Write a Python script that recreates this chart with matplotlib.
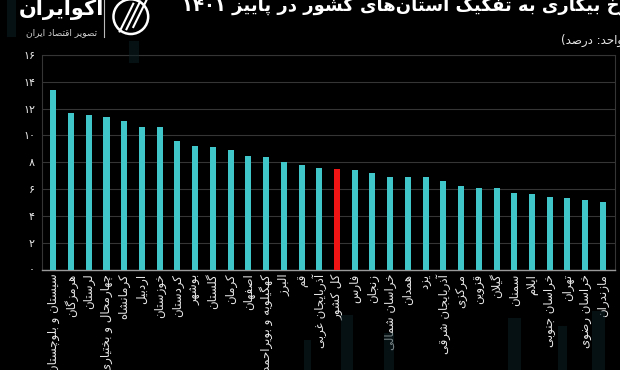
import matplotlib
matplotlib.use("Agg")
import matplotlib.pyplot as plt
from matplotlib.patches import Rectangle, Ellipse

# --- data (unemployment rate by province, autumn 1401, percent) ---
provinces = [
    "سیستان و بلوچستان", "هرمزگان", "لرستان", "چهارمحال و بختیاری", "کرمانشاه",
    "اردبیل", "خوزستان", "کردستان", "بوشهر", "گلستان", "کرمان", "اصفهان",
    "کهگیلویه و بویراحمد", "البرز", "قم", "آذربایجان غربی", "کل کشور", "فارس",
    "زنجان", "خراسان شمالی", "همدان", "یزد", "آذربایجان شرقی", "مرکزی", "قزوین",
    "گیلان", "سمنان", "ایلام", "خراسان جنوبی", "تهران", "خراسان رضوی", "مازندران",
]
rates = [13.4, 11.7, 11.5, 11.4, 11.1, 10.6, 10.6, 9.6, 9.2, 9.1, 8.9, 8.5,
         8.4, 8.0, 7.8, 7.6, 7.5, 7.4, 7.2, 6.9, 6.9, 6.9, 6.6, 6.2, 6.1,
         6.1, 5.7, 5.6, 5.4, 5.3, 5.2, 5.0]
highlight = "کل کشور"
y_ticks = [0, 2, 4, 6, 8, 10, 12, 14, 16]

title = "نرخ بیکاری به تفکیک استان‌های کشور در پاییز ۱۴۰۱"
subtitle = "(واحد: درصد)"
brand = "اکوایران"
brand_sub = "تصویر اقتصاد ایران"

# --- minimal Persian shaping (matplotlib has no RTL / joining support) ---
FORMS = {  # isolated, final, initial, medial
    "ا": ("\uFE8D", "\uFE8E"), "آ": ("\uFE81", "\uFE82"),
    "ب": ("\uFE8F", "\uFE90", "\uFE91", "\uFE92"),
    "پ": ("\uFB56", "\uFB57", "\uFB58", "\uFB59"),
    "ت": ("\uFE95", "\uFE96", "\uFE97", "\uFE98"),
    "ث": ("\uFE99", "\uFE9A", "\uFE9B", "\uFE9C"),
    "ج": ("\uFE9D", "\uFE9E", "\uFE9F", "\uFEA0"),
    "چ": ("\uFB7A", "\uFB7B", "\uFB7C", "\uFB7D"),
    "ح": ("\uFEA1", "\uFEA2", "\uFEA3", "\uFEA4"),
    "خ": ("\uFEA5", "\uFEA6", "\uFEA7", "\uFEA8"),
    "د": ("\uFEA9", "\uFEAA"), "ذ": ("\uFEAB", "\uFEAC"),
    "ر": ("\uFEAD", "\uFEAE"), "ز": ("\uFEAF", "\uFEB0"),
    "ژ": ("\uFB8A", "\uFB8B"),
    "س": ("\uFEB1", "\uFEB2", "\uFEB3", "\uFEB4"),
    "ش": ("\uFEB5", "\uFEB6", "\uFEB7", "\uFEB8"),
    "ص": ("\uFEB9", "\uFEBA", "\uFEBB", "\uFEBC"),
    "ض": ("\uFEBD", "\uFEBE", "\uFEBF", "\uFEC0"),
    "ط": ("\uFEC1", "\uFEC2", "\uFEC3", "\uFEC4"),
    "ظ": ("\uFEC5", "\uFEC6", "\uFEC7", "\uFEC8"),
    "ع": ("\uFEC9", "\uFECA", "\uFECB", "\uFECC"),
    "غ": ("\uFECD", "\uFECE", "\uFECF", "\uFED0"),
    "ف": ("\uFED1", "\uFED2", "\uFED3", "\uFED4"),
    "ق": ("\uFED5", "\uFED6", "\uFED7", "\uFED8"),
    "ک": ("\uFB8E", "\uFB8F", "\uFB90", "\uFB91"),
    "گ": ("\uFB92", "\uFB93", "\uFB94", "\uFB95"),
    "ل": ("\uFEDD", "\uFEDE", "\uFEDF", "\uFEE0"),
    "م": ("\uFEE1", "\uFEE2", "\uFEE3", "\uFEE4"),
    "ن": ("\uFEE5", "\uFEE6", "\uFEE7", "\uFEE8"),
    "و": ("\uFEED", "\uFEEE"),
    "ه": ("\uFEE9", "\uFEEA", "\uFEEB", "\uFEEC"),
    "ی": ("\uFBFC", "\uFBFD", "\uFBFE", "\uFBFF"),
}
LAM_ALEF = {"ا": ("\uFEFB", "\uFEFC"), "آ": ("\uFEF5", "\uFEF6")}
MIRROR = {"(": ")", ")": "("}


def dual(c):
    return c in FORMS and len(FORMS[c]) == 4


def fa(text):
    chars = list(text)
    shaped = []
    i = 0
    while i < len(chars):
        c = chars[i]
        prev = chars[i - 1] if i > 0 else None
        nxt = chars[i + 1] if i + 1 < len(chars) else None
        if c not in FORMS:
            if c != "\u200c":
                shaped.append(c)
            i += 1
            continue
        join_prev = prev is not None and dual(prev)
        if c == "ل" and nxt in LAM_ALEF:
            shaped.append(LAM_ALEF[nxt][1 if join_prev else 0])
            i += 2
            continue
        join_next = dual(c) and nxt in FORMS
        f = FORMS[c]
        if join_prev and join_next:
            shaped.append(f[3])
        elif join_prev:
            shaped.append(f[1])
        elif join_next:
            shaped.append(f[2])
        else:
            shaped.append(f[0])
        i += 1
    # visual order: reverse, but keep digit runs left-to-right
    tokens = []
    for ch in shaped:
        if ch.isdigit() and tokens and tokens[-1][-1].isdigit():
            tokens[-1] += ch
        else:
            tokens.append(ch)
    return "".join(MIRROR.get(t, t) for t in reversed(tokens))


def fa_digits(n):
    return str(n).translate(str.maketrans("0123456789", "۰۱۲۳۴۵۶۷۸۹"))


plt.rcParams["font.family"] = ["DejaVu Sans"]

bg = "#000000"
teal = "#40c6c8"
red = "#f01414"
grid_c = "#353535"
text_c = "#e8e8e8"

fig = plt.figure(figsize=(6.2, 3.7), dpi=100, facecolor=bg)

# faint decorative background stripes
for (x0, y0, w, h) in [(0.012, 0.90, 0.014, 0.10), (0.208, 0.83, 0.016, 0.06),
                       (0.55, 0.0, 0.02, 0.15), (0.62, 0.0, 0.015, 0.10),
                       (0.82, 0.0, 0.02, 0.14), (0.90, 0.0, 0.015, 0.12),
                       (0.955, 0.0, 0.02, 0.16), (0.49, 0.0, 0.012, 0.08)]:
    fig.patches.append(Rectangle((x0, y0), w, h, transform=fig.transFigure,
                                 facecolor="#0c2229", edgecolor="none",
                                 alpha=0.5, zorder=0))

ax = fig.add_axes([0.0677, 0.2716, 0.9242, 0.5798])
ax.set_facecolor(bg)

x = list(range(len(provinces)))
colors = [red if p == highlight else teal for p in provinces]
ax.bar(x, rates, width=0.34, color=colors, zorder=3)

ax.set_xlim(-0.64, len(provinces) - 0.32)
ax.set_ylim(0, 16)
ax.set_yticks(y_ticks)
ax.set_yticklabels([fa_digits(v) for v in y_ticks], color=text_c, fontsize=8)
ax.grid(axis="y", color=grid_c, linewidth=0.8, zorder=0)
ax.tick_params(axis="both", length=0, pad=5)

ax.set_xticks(x)
ax.set_xticklabels([fa(p) for p in provinces], rotation=90, color=text_c,
                   fontsize=8.5, ha="center", va="top")
ax.tick_params(axis="x", pad=3)

for side in ["top", "right", "left"]:
    ax.spines[side].set_color("#353535")
    ax.spines[side].set_linewidth(0.8)
ax.spines["bottom"].set_color("#9a9a9a")
ax.spines["bottom"].set_linewidth(1.0)

# title / subtitle (cut at the right edge like the source)
fig.text(1.028, 0.985, fa(title), color="white", fontsize=13, fontweight="bold",
         ha="right", va="center")
fig.text(1.012, 0.89, fa(subtitle), color=text_c, fontsize=8.5,
         ha="right", va="center")

# brand block
fig.text(0.099, 0.975, fa(brand), color="white", fontsize=15, fontweight="bold",
         ha="center", va="center")
fig.text(0.099, 0.912, fa(brand_sub), color="#d0d0d0", fontsize=6.5,
         ha="center", va="center")
fig.lines.append(plt.Line2D([0.167, 0.167], [0.90, 1.0], transform=fig.transFigure,
                            color="#bbbbbb", linewidth=0.8))
fig.patches.append(Ellipse((0.211, 0.955), 0.056, 0.056 * 620 / 370,
                           transform=fig.transFigure, facecolor="none",
                           edgecolor="white", linewidth=1.8))
for k in range(3):
    fig.lines.append(plt.Line2D([0.193 + k * 0.011, 0.215 + k * 0.011],
                                [0.915 + k * 0.006, 0.99 + k * 0.006],
                                transform=fig.transFigure, color="white",
                                linewidth=1.5))

fig.savefig("out.png", dpi=100, facecolor=bg)
